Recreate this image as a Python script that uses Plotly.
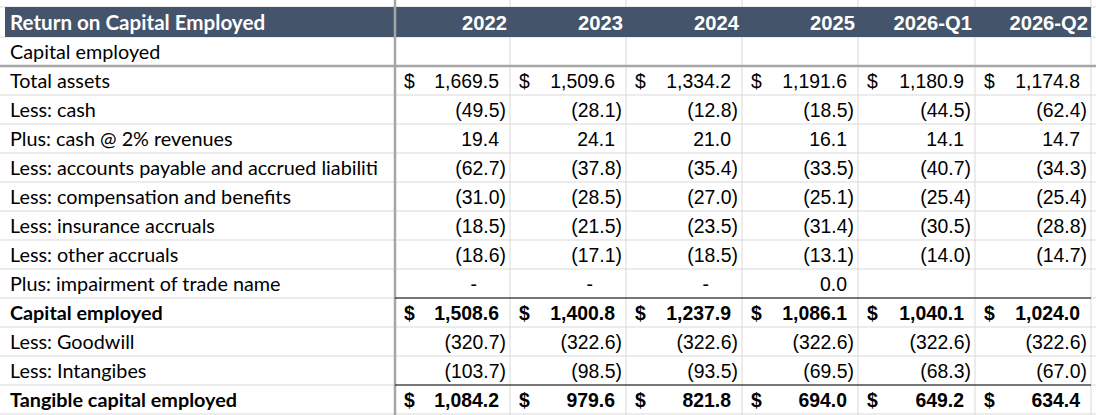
import plotly.graph_objects as go

# ---- data -------------------------------------------------------------
title = "Return on Capital Employed"
section = "Capital employed"
periods = ["2022", "2023", "2024", "2025", "2026-Q1", "2026-Q2"]

total_assets = [1669.5, 1509.6, 1334.2, 1191.6, 1180.9, 1174.8]
less_cash = [-49.5, -28.1, -12.8, -18.5, -44.5, -62.4]
plus_cash_2pct = [19.4, 24.1, 21.0, 16.1, 14.1, 14.7]
less_ap_accrued = [-62.7, -37.8, -35.4, -33.5, -40.7, -34.3]
less_comp_benefits = [-31.0, -28.5, -27.0, -25.1, -25.4, -25.4]
less_insurance = [-18.5, -21.5, -23.5, -31.4, -30.5, -28.8]
less_other_accruals = [-18.6, -17.1, -18.5, -13.1, -14.0, -14.7]
plus_impairment = [0, 0, 0, 0.01, None, None]   # 2025 shows 0.0 (tiny, non-zero)
capital_employed = [1508.6, 1400.8, 1237.9, 1086.1, 1040.1, 1024.0]
less_goodwill = [-320.7, -322.6, -322.6, -322.6, -322.6, -322.6]
less_intangibles = [-103.7, -98.5, -93.5, -69.5, -68.3, -67.0]
tangible_capital = [1084.2, 979.6, 821.8, 694.0, 649.2, 634.4]

# label, values, bold, dollar sign
rows = [
    (section, None, False, False),
    ("Total assets", total_assets, False, True),
    ("Less: cash", less_cash, False, False),
    ("Plus: cash @ 2% revenues", plus_cash_2pct, False, False),
    ("Less: accounts payable and accrued liabiliti", less_ap_accrued, False, False),
    ("Less: compensation and benefits", less_comp_benefits, False, False),
    ("Less: insurance accruals", less_insurance, False, False),
    ("Less: other accruals", less_other_accruals, False, False),
    ("Plus: impairment of trade name", plus_impairment, False, False),
    ("Capital employed", capital_employed, True, True),
    ("Less: Goodwill", less_goodwill, False, False),
    ("Less: Intangibes", less_intangibles, False, False),
    ("Tangible capital employed", tangible_capital, True, True),
]

# ---- sheet geometry (pixels) -------------------------------------------
W, H = 1096, 415
col_edges = [5, 395, 510, 626, 742, 858, 975, 1091]
top = 7
head_h = 30
row_h = 29
header_bg = "#44546A"
grid = "#D9D9D9"
heavy = "#A6A6A6"
label_font = "Lato"
num_font = "Liberation Sans"
fs_label = 19.8
fs_title = 20.6
fs_num = 19.4
fs_year = 20.2


def row_mid(i):
    return top + head_h + row_h * i + row_h / 2 + 3


def fmt(v):
    if v is None:
        return ""
    if v == 0:
        return "-"
    if v < 0:
        return "({:,.1f})".format(abs(v))
    return "{:,.1f}".format(v)


texts = {}


def put(key, x, y, s):
    t = texts.setdefault(key, ([], [], []))
    t[0].append(x)
    t[1].append(y)
    t[2].append(s)


# header
head_y = top + head_h / 2 + 3
put((label_font, fs_title, True, "white", "middle right"), col_edges[0] + 5, head_y, title)
for j, p in enumerate(periods):
    put((num_font, fs_year, True, "white", "middle left"), col_edges[j + 2] - 3, head_y, p)

for i, (label, vals, bold, dollar) in enumerate(rows):
    y = row_mid(i)
    put((label_font, fs_label, bold, "black", "middle right"), col_edges[0] + 5, y, label)
    if vals is None:
        continue
    for j, v in enumerate(vals):
        left, right = col_edges[j + 1], col_edges[j + 2]
        if dollar:
            put((num_font, fs_num, bold, "black", "middle right"), left + 9, y, "$")
        s = fmt(v)
        if not s:
            continue
        if s == "-":
            x = right - 33
        elif s.startswith("("):
            x = right - 4
        else:
            x = right - 11
        put((num_font, fs_num, bold, "black", "middle left"), x, y, s)

fig = go.Figure()
for (fam, size, bold, color, pos), (xs, ys, ss) in texts.items():
    fig.add_trace(go.Scatter(
        x=xs, y=ys, text=ss, mode="text", textposition=pos,
        textfont=dict(family=fam, size=size, color=color,
                      weight="bold" if bold else "normal"),
        hoverinfo="skip", showlegend=False, cliponaxis=False,
    ))

shapes = []
# light gridlines
for k in range(len(rows) + 1):
    yy = top + head_h + row_h * k
    shapes.append(dict(type="line", x0=0, x1=W, y0=yy, y1=yy,
                       line=dict(color=grid, width=1)))
shapes.append(dict(type="line", x0=0, x1=W, y0=top, y1=top, line=dict(color=grid, width=1)))
for xx in col_edges[2:]:
    shapes.append(dict(type="line", x0=xx, x1=xx, y0=0, y1=H, line=dict(color=grid, width=1)))
# header band
shapes.append(dict(type="rect", x0=col_edges[0], x1=col_edges[-1], y0=top, y1=top + head_h,
                   fillcolor=header_bg, line=dict(width=0)))
# heavy grey borders
yy = top + head_h + row_h
shapes.append(dict(type="line", x0=0, x1=W, y0=yy, y1=yy, line=dict(color=heavy, width=2.5)))
shapes.append(dict(type="line", x0=col_edges[1], x1=col_edges[1], y0=0, y1=H,
                   line=dict(color=heavy, width=2.5)))
# black total rules
for i, (label, vals, bold, dollar) in enumerate(rows):
    if bold:
        yy = top + head_h + row_h * i
        shapes.append(dict(type="line", x0=col_edges[1], x1=col_edges[-1], y0=yy, y1=yy,
                           line=dict(color="black", width=1.2)))
for s in shapes:
    s["layer"] = "below"

fig.update_layout(
    width=W, height=H,
    margin=dict(l=0, r=0, t=0, b=0),
    paper_bgcolor="white", plot_bgcolor="white",
    xaxis=dict(range=[0, W], visible=False, fixedrange=True),
    yaxis=dict(range=[H, 0], visible=False, fixedrange=True),
    shapes=shapes,
)

fig.write_html("out.html", config={"displayModeBar": False},
               post_script="document.body.style.margin='0px';")
